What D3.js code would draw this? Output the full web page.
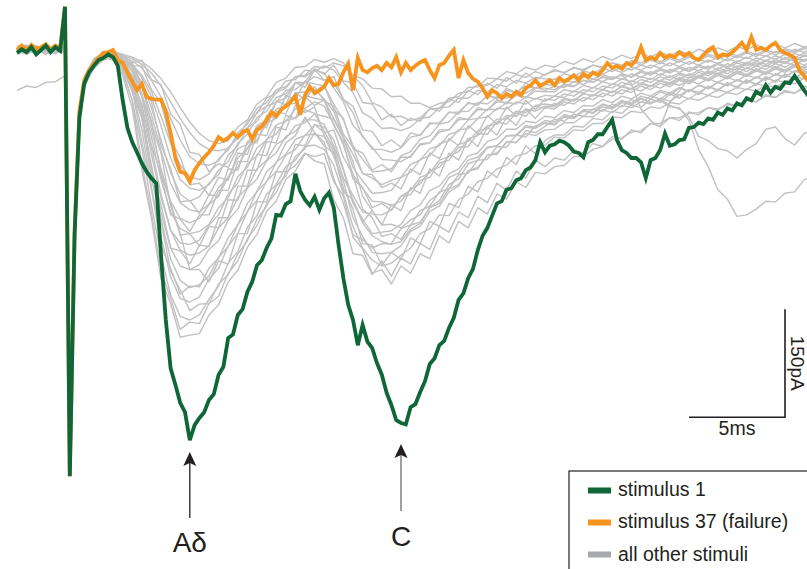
<!DOCTYPE html>
<html><head><meta charset="utf-8">
<script src="https://cdn.jsdelivr.net/npm/d3@7"></script>
<style>html,body{margin:0;padding:0;background:#fff;overflow:hidden}
text{font-family:"Liberation Sans",Arial,Helvetica,sans-serif;fill:#231f20}</style>
</head><body><svg id="chart" width="807" height="569"></svg>
<script>
// ---- sampling (ms) ----
const tStart = -2.5;      // first sample time of every trace
const tStep = 0.25;       // sampling interval of highlighted traces
const grayStep = 0.5;     // sampling interval of the other traces

// ---- current (pA), stimulus 1 ----
const stimulus1 = [
 -4,1,-3,4,-6,0,6,-3,4,-1,
 60,-592,-257,-94,-47,-31,-22,-14,-11,-6,-10,-22,
 -69,-108,-128,-142,-157,-169,-178,-185,
 -285,-375,-442,-465,-490,-503,-542,-521,-511,-503,
 -486,-478,-451,-440,-400,-395,-368,-360,-336,-322,
 -299,-292,-275,-262,-229,-230,-214,-210,-172,-196,
 -208,-216,-204,-222,-206,-198,-219,-271,-317,-354,
 -375,-410,-382,-405,-414,-435,-451,-476,-493,-514,
 -518,-520,-496,-492,-475,-460,-436,-428,-410,-404,
 -386,-372,-347,-338,-317,-304,-278,-258,-247,-230,
 -213,-210,-194,-192,-181,-178,-167,-163,-153,-128,
 -142,-133,-131,-126,-128,-133,-141,-143,-149,-128,
 -125,-117,-117,-107,-97,-125,-139,-143,-150,-150,
 -156,-178,-153,-150,-139,-116,-133,-131,-125,-124,
 -108,-107,-101,-103,-95,-97,-87,-90,-81,-84,
 -74,-77,-67,-70,-58,-62,-49,-59,-51,-54,
 -45,-46,-36,-46,-56,-65
];

// ---- current (pA), stimulus 37 (failure) ----
const stimulus37 = [
 0,6,0,7,1,4,8,1,6,3,
 60,-592,-250,-85,
 -42,-28,-19,-11,-4,-3,0,-14,
 -18,-31,-44,-56,-47,-65,-68,-69,
 -69,-86,-115,-150,-169,-171,-183,-167,-157,-149,
 -142,-133,-121,-126,-122,-115,-121,-114,-111,-124,
 -111,-106,-97,-86,-92,-83,-78,-72,-64,-90,
 -63,-51,-60,-56,-51,-39,-49,-47,-31,-19,
 -56,-11,-28,-31,-25,-22,-28,-18,-24,-10,
 -31,-18,-28,-22,-17,-14,-28,-39,-21,-18,
 -8,0,-39,-14,-32,-40,-44,-53,-65,-56,
 -60,-67,-61,-65,-58,-63,-53,-49,-42,-50,
 -46,-42,-49,-39,-44,-40,-35,-42,-33,-38,
 -31,-35,-28,-18,-25,-22,-26,-18,-21,-14,
 4,-14,-10,-13,-4,-11,-7,-10,-3,-8,
 -4,-11,-14,-7,0,4,-10,-6,-8,-3,
 3,10,0,18,0,3,0,6,10,0,
 -4,-7,-11,-28,-36,-44
];

// ---- current (pA), all other stimuli (artifact sample left out) ----
const otherStimuli = [
 [2,-4,5,-2,3,-1,null,-48,-22,-8,-12,-35,-80,-166,-234,-318,-352,-399,-396,
  -394,-368,-354,-322,-306,-274,-256,-224,-210,-180,-168,-144,-148,
  -144,-183,-203,-260,-276,-310,-305,-325,
  -300,-310,-283,-290,-258,-268,-238,-247,-219,-228,-200,-207,-183,-191,-170,
  -172,-162,-160,-148,-148,-138,-134,-124,-122,-114,-112,-102,-102,-94,-94,-88,-87,-80,-82,-76,-77,-70,-72,-64,-66,-58,-60,-53,-52],
 [-3,6,-1,2,5,-2,null,-52,-24,-14,-10,-30,-70,-158,-226,-306,-345,-388,-378,
  -380,-352,-342,-310,-293,-262,-244,-214,-198,-170,-160,-143,
  -154,-158,-208,-233,-283,-285,-312,-293,-314,
  -289,-297,-269,-277,-245,-253,-225,-233,-203,-212,-185,-195,-168,-178,-153,
  -162,-150,-153,-140,-143,-130,-134,-120,-124,-111,-115,-102,-106,-94,-98,-86,-90,-80,-84,-74,-78,-68,-72,-62,-66,-56,-60,-50,-53],
 [-3,4,-1,6,-2,3,null,-44,-18,-11,-6,-28,-70,-135,-215,-285,-340,-370,-375,
  -368,-346,-328,-296,-280,-246,-230,-200,-187,-162,-153,-134,-132,
  -138,-160,-200,-245,-275,-292,-300,-296,
  -285,-275,-255,-248,-229,-230,-208,-200,-183,-178,-165,-160,-147,-144,-133,
  -132,-121,-122,-111,-112,-102,-102,-93,-94,-85,-87,-79,-81,-73,-75,-67,-70,-63,-66,-59,-62,-54,-57,-49,-52,-44,-47,-39,-41],
 [5,-2,3,-6,1,4,null,-49,-26,-12,-7,-26,-58,-94,-177,-238,-307,-333,-362,-353,
  -352,-325,-312,-283,-265,-235,-217,-189,-175,-148,-137,-115,
  -133,-143,-192,-221,-269,-271,-299,-281,
  -291,-261,-269,-238,-245,-213,-219,-189,-197,-168,-177,-149,-159,-133,-144,
  -126,-118,-118,-106,-107,-95,-97,-85,-88,-76,-80,-68,-73,-61,-67,-55,-62,-50,-57,-45,-53,-41,-49,-37,-45,-33,-41,-29,-35],
 [4,-2,1,-5,2,-3,null,-50,-25,-13,-9,-22,-55,-110,-190,-260,-315,-345,-350,
  -343,-318,-303,-272,-255,-224,-209,-182,-169,-146,-138,-118,-117,
  -120,-148,-182,-233,-259,-281,-283,-281,
  -272,-252,-245,-224,-217,-197,-189,-168,-163,-146,-143,-128,-128,-116,-119,
  -111,-110,-101,-101,-92,-93,-83,-87,-77,-80,-72,-75,-67,-71,-63,-68,-59,-63,-55,-59,-52,-55,-47,-50,-42,-45,-37,-40,-33],
 [-4,2,6,-1,-5,3,null,-45,-19,-9,-5,-20,-54,-127,-193,-272,-303,-339,-328,
  -329,-303,-289,-261,-243,-213,-197,-169,-157,-129,-119,-93,
  -115,-128,-179,-213,-257,-263,-275,-269,
  -269,-248,-243,-223,-217,-197,-193,-173,-171,-153,-152,-134,-135,-118,-121,-105,
  -102,-104,-92,-95,-84,-87,-76,-80,-70,-74,-64,-68,-58,-63,-53,-58,-49,-54,-45,-50,-41,-46,-37,-42,-33,-38,-29,-34,-28],
 [-56,-50,-52,-45,-44,-36,null,-46,-20,-10,-14,-30,-50,-95,-165,-235,-290,-320,-330,-326,
  -314,-288,-273,-242,-225,-196,-183,-156,-145,-124,-119,-104,-107,
  -125,-165,-210,-240,-258,-266,-270,
  -266,-249,-241,-219,-209,-187,-179,-158,-153,-136,-133,-119,-119,-107,-109,
  -101,-103,-93,-95,-85,-88,-79,-82,-73,-76,-68,-73,-70,-79,-80,
  -98,-138,-162,-194,-207,-231,-229,-221,-210,-211,-199,-197,-180,-176],
 [2,-5,4,0,-3,6,null,-47,-22,-11,-9,-18,-36,-49,-102,-143,-217,-255,-305,-305,-322,
  -293,-297,-255,-255,-211,-211,-169,-169,-131,-133,-103,-115,
  -111,-149,-173,-221,-233,-259,-255,-263,
  -243,-239,-219,-213,-193,-187,-168,-165,-146,-145,-127,-129,-112,-115,
  -106,-96,-99,-89,-92,-82,-85,-75,-79,-69,-73,-64,-68,-59,-63,-55,-59,-51,-55,-47,-51,-43,-47,-39,-43,-35,-39,-31,-33],
 [-1,5,-3,3,-4,2,null,-42,-16,-6,-4,-20,-45,-90,-160,-225,-275,-300,-305,
  -298,-277,-265,-236,-221,-192,-179,-154,-143,-120,-113,-97,-97,
  -103,-133,-167,-213,-235,-255,-253,-251,
  -242,-223,-215,-195,-189,-172,-165,-147,-143,-127,-123,-110,-110,-99,-101,
  -92,-94,-84,-87,-77,-78,-69,-73,-64,-68,-60,-64,-56,-60,-52,-57,-49,-53,-45,-49,-42,-46,-38,-42,-34,-38,-29,-32,-25],
 [-1,3,-4,5,2,-2,null,-44,-17,-7,-4,-18,-48,-84,-167,-215,-275,-279,-297,
  -271,-273,-233,-233,-189,-189,-145,-147,-107,-111,-77,-87,
  -79,-119,-141,-197,-208,-239,-223,-243,
  -215,-223,-191,-199,-165,-175,-143,-153,-123,-134,-107,-118,-93,-105,-82,-95,
  -80,-82,-72,-75,-66,-69,-60,-64,-55,-59,-50,-55,-46,-51,-42,-47,-38,-43,-35,-40,-32,-37,-29,-34,-26,-31,-23,-28,-22],
 [3,-3,0,5,-2,4,null,-47,-21,-12,-10,-24,-40,-75,-135,-200,-250,-278,-285,-282,
  -272,-247,-233,-205,-191,-165,-153,-131,-123,-105,-101,-89,-92,
  -96,-123,-155,-203,-223,-243,-242,-247,
  -236,-229,-209,-199,-177,-171,-153,-149,-135,-133,-119,-118,-105,-107,
  -98,-100,-90,-93,-83,-83,-75,-79,-71,-75,-67,-73,-69,-77,
  -82,-93,-120,-126,-137,-140,-150,-138,-130,-110,-107,-123,-132,-116,-112],
 [-5,1,4,-3,5,-1,null,-40,-14,-7,-3,-16,-38,-80,-145,-205,-250,-268,-270,
  -264,-243,-229,-200,-185,-158,-147,-124,-117,-98,-95,-83,
  -88,-113,-137,-178,-202,-225,-228,-229,
  -222,-203,-195,-177,-171,-153,-148,-131,-127,-112,-109,-96,-96,-85,-87,-78,
  -81,-74,-77,-68,-71,-62,-65,-57,-61,-53,-57,-49,-53,-45,-49,-42,-47,-40,-45,-38,-43,-35,-39,-31,-35,-27,-31,-22,-25],
 [4,1,-3,-1,5,0,null,-50,-23,-12,-8,-16,-24,-64,-98,-172,-211,-257,-255,-272,
  -245,-247,-208,-209,-167,-167,-127,-129,-91,-95,-65,-77,
  -69,-105,-128,-179,-191,-219,-213,-223,
  -203,-201,-181,-177,-157,-153,-135,-134,-116,-117,-100,-103,-87,-92,-77,
  -75,-77,-67,-70,-61,-64,-55,-59,-50,-54,-46,-50,-42,-46,-38,-43,-35,-40,-32,-37,-29,-34,-26,-31,-23,-28,-20,-25,-18],
 [1,-5,3,0,-3,5,null,-45,-19,-9,-7,-19,-35,-65,-120,-180,-225,-248,-255,-252,
  -242,-219,-205,-176,-163,-136,-125,-104,-99,-82,-81,-72,
  -78,-103,-132,-173,-192,-210,-211,-216,
  -210,-193,-186,-167,-163,-147,-141,-123,-119,-105,-103,-91,-92,-82,-85,
  -78,-79,-69,-71,-61,-63,-55,-59,-51,-55,-47,-51,-43,-48,-40,-45,-37,-42,-35,-39,-32,-36,-28,-33,-25,-29,-21,-25,-19],
 [-6,0,2,5,-2,1,null,-42,-16,-6,-2,-12,-38,-62,-132,-173,-229,-235,-252,
  -229,-229,-195,-195,-155,-155,-117,-119,-85,-89,-59,-69,-51,
  -71,-78,-117,-135,-172,-173,-191,-185,-193,
  -165,-173,-143,-151,-123,-133,-105,-116,-91,-103,-79,-92,-70,-83,
  -68,-70,-61,-64,-55,-58,-50,-53,-45,-49,-41,-45,-37,-42,-34,-39,-31,-36,-28,-33,-25,-30,-22,-27,-19,-24,-16,-21,-14],
 [6,0,-2,4,1,-4,null,-43,-17,-8,-5,-14,-30,-60,-110,-165,-210,-234,-240,
  -234,-215,-203,-176,-163,-136,-125,-102,-95,-76,-74,-63,-67,
  -70,-95,-122,-163,-182,-199,-198,
  -195,-177,-170,-152,-147,-130,-126,-111,-109,-95,-93,-81,-82,-72,-75,-67,
  -71,-64,-66,-57,-60,-52,-55,-47,-51,-43,-47,-39,-43,-36,-41,-33,-38,-31,-35,-28,-33,-25,-29,-21,-25,-17,-21,-13,-16],
 [-2,3,-6,1,4,-2,null,-46,-21,-11,-8,-17,-28,-50,-90,-140,-185,-212,-222,-225,
  -214,-191,-177,-150,-137,-112,-103,-82,-77,-60,-58,
  -55,-68,-85,-121,-145,-171,-178,-187,-181,
  -177,-159,-153,-137,-133,-117,-113,-97,-95,-82,-83,-73,-75,-65,-68,
  -63,-64,-55,-58,-49,-53,-44,-48,-40,-44,-37,-41,-33,-38,-32,-36,-28,-33,-25,-29,-22,-26,-18,-23,-15,-19,-11,-16,-10],
 [3,7,-2,1,-4,2,null,-46,-20,-10,-7,-14,-18,-48,-71,-132,-165,-211,-209,-227,
  -201,-203,-165,-167,-127,-129,-91,-95,-63,-69,-43,-57,
  -49,-83,-95,-137,-143,-167,-159,-169,
  -149,-149,-130,-129,-111,-111,-94,-96,-80,-84,-69,-75,-60,-67,-53,
  -53,-55,-47,-50,-42,-45,-38,-41,-34,-38,-31,-35,-28,-32,-25,-30,-23,-27,-20,-25,-18,-22,-15,-20,-13,-17,-10,-14,-8],
 [3,-1,6,-4,0,2,null,-41,-15,-5,-4,-12,-25,-45,-80,-125,-170,-200,-210,
  -204,-185,-173,-146,-133,-108,-99,-78,-73,-56,-55,-44,-47,
  -50,-75,-97,-133,-152,-169,-168,
  -165,-147,-141,-124,-119,-103,-100,-86,-85,-73,-75,-65,-67,-57,-60,-52,
  -56,-50,-52,-44,-48,-40,-44,-37,-41,-33,-38,-30,-35,-27,-31,-24,-29,-22,-27,-19,-24,-17,-21,-14,-18,-11,-15,-8,-11],
 [-4,2,-1,7,-3,1,null,-48,-23,-13,-9,-15,-22,-38,-65,-105,-150,-180,-192,-195,
  -187,-167,-155,-130,-117,-94,-85,-66,-61,-46,-46,-37,-42,
  -46,-68,-87,-121,-135,-152,-153,-155,
  -147,-132,-129,-114,-111,-97,-96,-83,-83,-72,-73,-63,-66,-57,
  -58,-58,-49,-51,-42,-45,-37,-41,-33,-37,-29,-33,-26,-30,-23,-28,-21,-25,-18,-23,-15,-19,-11,-15,-8,-13,-5,-9,-4],
 [-2,-6,1,4,0,-3,null,-43,-18,-8,-4,-9,-22,-22,-55,-73,-125,-149,-187,-185,-202,
  -177,-181,-143,-145,-105,-108,-71,-76,-45,-52,-27,-42,
  -37,-69,-78,-111,-113,-133,-125,-135,
  -115,-119,-101,-103,-86,-89,-73,-77,-62,-68,-53,-60,-46,-53,
  -47,-40,-42,-35,-38,-31,-34,-27,-31,-24,-28,-21,-25,-18,-23,-16,-21,-14,-19,-12,-17,-10,-15,-8,-13,-6,-11,-4,-7],
 [1,6,-3,2,-5,4,null,-44,-18,-9,-6,-13,-20,-35,-58,-92,-130,-160,-176,-180,
  -172,-151,-139,-115,-103,-81,-73,-55,-51,-37,-37,-28,
  -32,-53,-72,-105,-119,-138,-138,-142,
  -136,-121,-118,-103,-101,-87,-86,-74,-75,-64,-66,-56,-59,-50,-53,
  -48,-49,-42,-45,-37,-41,-34,-39,-35,-47,-82,-98,-107,-73,-57,-38,-37,-29,-33,-25,-28,-19,-23,-15,-19,-11,-15,-7,-10],
 [6,2,-1,-5,3,1,null,-40,-14,-5,-1,-7,-18,-14,-41,-48,-89,-103,-142,-145,-169,-158,
  -163,-137,-131,-105,-97,-72,-67,-45,-45,-26,-34,-21,
  -43,-45,-73,-75,-97,-89,-105,-95,
  -99,-81,-85,-68,-73,-56,-62,-46,-53,-38,-46,-32,-41,
  -34,-29,-31,-25,-27,-21,-24,-18,-21,-15,-18,-12,-16,-10,-14,-8,-12,-6,-10,-4,-8,-2,-6,0,-4,2,-2,4,1],
 [-2,0,5,-4,2,-1,null,-40,-15,-7,-5,-10,-15,-25,-42,-65,-95,-125,-148,-158,-160,
  -154,-135,-123,-99,-88,-67,-60,-43,-41,-28,-30,-22,
  -28,-45,-59,-87,-95,-109,-108,-112,
  -107,-95,-93,-80,-79,-67,-67,-56,-58,-48,-51,-42,-46,-38,
  -40,-41,-33,-37,-29,-33,-25,-30,-23,-28,-21,-25,-17,-22,-15,-20,-13,-17,-10,-15,-8,-12,-5,-9,-2,-6,1,-3,3],
 [4,-3,2,6,-1,-4,null,-43,-17,-6,-3,-8,-12,-20,-32,-50,-72,-95,-115,-130,-138,-140,
  -137,-119,-109,-87,-78,-59,-53,-37,-35,-23,-25,-18,
  -22,-35,-40,-53,-54,-65,-64,-74,-74,-80,-74,-72,-60,
  -58,-48,-49,-40,-43,-34,-38,-30,-35,-27,-32,-24,-29,-21,-25,-18,-23,-16,-21,-14,-19,-12,-17,-10,-15,-8,-13,-6,-11,-4,-9,-2,-7,0,-4,2,-1],
 [0,4,-4,3,6,0,null,-38,-12,-4,-2,-6,-10,-16,-26,-40,-58,-80,-100,-116,-126,-130,
  -126,-107,-97,-75,-65,-45,-39,-24,-23,-13,-17,-12,
  -18,-37,-49,-73,-79,-93,-92,-98,
  -94,-82,-81,-67,-65,-52,-51,-39,-40,-30,-33,-24,-28,
  -21,-24,-16,-20,-12,-17,-9,-14,-7,-12,-5,-10,-3,-8,-1,-6,1,-4,3,-2,5,0,7,2,8,3,9,4,8]
];

// ---- text ----
const legendLabels = ["stimulus 1", "stimulus 37 (failure)", "all other stimuli"];
const peakLabels = ["Aδ", "C"];
const peakTimes = [6.5, 17.5];            // ms
const scaleBarTime = [32.5, 37.5];        // 5 ms
const scaleBarCurrent = [-360, -510];     // 150 pA
const scaleLabels = ["5ms", "150pA"];

// ---- drawing ----
const svg = d3.select("#chart");
const x = d3.scaleLinear().domain([0, 5]).range([65, 161]);
const y = d3.scaleLinear().domain([0, -150]).range([50, 158]);
const colors = {green: "#0f6636", orange: "#f7941d", gray: "#c1c1c1", grayKey: "#a8a9ad"};

const lineFine = d3.line().defined(d => d != null)
  .x((d, i) => x(tStart + i * grayStep)).y(d => y(d));
const lineMain = d3.line().defined(d => d != null)
  .x((d, i) => x(tStart + i * tStep)).y(d => y(d));

svg.append("g").selectAll("path").data(otherStimuli).join("path")
  .attr("d", lineFine).attr("fill", "none").attr("stroke", colors.gray)
  .attr("stroke-width", 1.4).attr("stroke-linejoin", "round");

svg.append("path").attr("d", lineMain(stimulus37)).attr("fill", "none")
  .attr("stroke", colors.orange).attr("stroke-width", 3.8).attr("stroke-linejoin", "miter");
svg.append("path").attr("d", lineMain(stimulus1)).attr("fill", "none")
  .attr("stroke", colors.green).attr("stroke-width", 3.8).attr("stroke-linejoin", "miter");

// arrows and peak labels
const arrowTip = [452, 444], arrowBase = [518, 511], labelBase = [552, 546];
peakTimes.forEach((t, i) => {
  const cx = x(t);
  svg.append("line").attr("x1", cx).attr("x2", cx)
    .attr("y1", arrowBase[i]).attr("y2", arrowTip[i] + 10)
    .attr("stroke", i === 0 ? "#231f20" : "#6d6e70").attr("stroke-width", 1.3);
  const ty = arrowTip[i];
  svg.append("path")
    .attr("d", `M${cx},${ty} L${cx + 6.5},${ty + 14} L${cx},${ty + 11} L${cx - 6.5},${ty + 14} Z`)
    .attr("fill", "#231f20");
  svg.append("text").attr("x", cx).attr("y", labelBase[i])
    .attr("text-anchor", "middle").attr("font-size", 28).text(peakLabels[i]);
});

// scale bar
const sbX0 = x(scaleBarTime[0]), sbX1 = x(scaleBarTime[1]);
const sbY0 = y(scaleBarCurrent[0]), sbY1 = y(scaleBarCurrent[1]);
svg.append("path").attr("d", `M${sbX0},${sbY1} H${sbX1} V${sbY0}`)
  .attr("fill", "none").attr("stroke", "#231f20").attr("stroke-width", 1.6);
svg.append("text").attr("x", (sbX0 + sbX1) / 2).attr("y", sbY1 + 18)
  .attr("text-anchor", "middle").attr("font-size", 19.5).text(scaleLabels[0]);
svg.append("text").attr("transform", `translate(${sbX1 + 6},${(sbY0 + sbY1) / 2}) rotate(90)`)
  .attr("text-anchor", "middle").attr("font-size", 19).text(scaleLabels[1]);

// legend
const lg = svg.append("g").attr("transform", "translate(569,471)");
lg.append("rect").attr("x", 0).attr("y", 0).attr("width", 260).attr("height", 120)
  .attr("fill", "#fff").attr("stroke", "#231f20").attr("stroke-width", 1.2);
const keyColors = [colors.green, colors.orange, colors.grayKey];
legendLabels.forEach((lab, i) => {
  const cy = 19.5 + i * 32;
  lg.append("rect").attr("x", 19).attr("y", cy - 3).attr("width", 23).attr("height", 6)
    .attr("fill", keyColors[i]);
  lg.append("text").attr("x", 49).attr("y", cy + 5 + (i === 2 ? 1 : 0))
    .attr("font-size", 19.5).text(lab);
});
</script>
</body></html>
